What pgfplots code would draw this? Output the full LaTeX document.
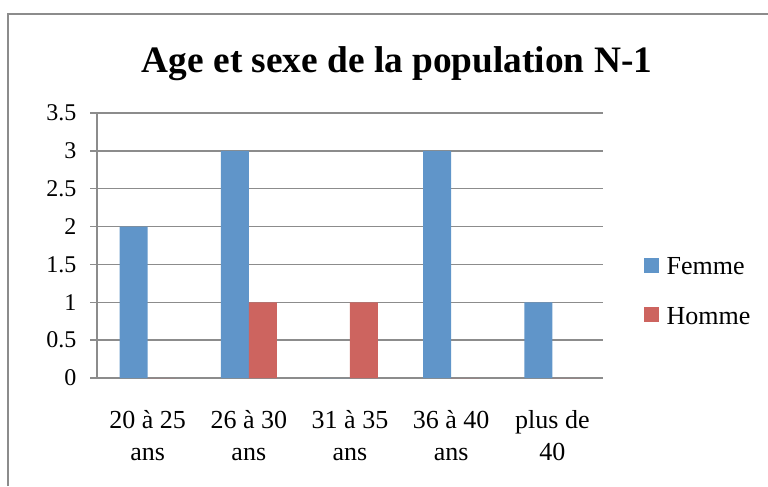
\documentclass[border=0pt]{standalone}
\usepackage{fontspec}
\setmainfont{Liberation Serif}
\usepackage{pgfplots}
\pgfplotsset{compat=1.18}
\definecolor{femme}{RGB}{96,149,201}
\definecolor{homme}{RGB}{205,100,95}
\definecolor{gridc}{RGB}{140,140,140}
\begin{document}
\begin{tikzpicture}
\draw[gridc, line width=1.2pt] (6pt,0pt) -- (6pt,354pt) -- (576pt,354pt);
\node[font=\bfseries\fontsize{28}{30}\selectfont] at (297.75pt,316.5pt) {Age et sexe de la population N-1};
\begin{axis}[
  at={(72.75pt,81pt)}, anchor=south west,
  scale only axis, width=379.5pt, height=198.75pt,
  ymin=0, ymax=3.5,
  xmin=-0.5, xmax=4.5,
  ytick={0,0.5,1,1.5,2,2.5,3,3.5},
  yticklabels={0,0.5,1,1.5,2,2.5,3,3.5},
  xtick={0,1,2,3,4},
  xticklabels={{20 à 25\\ans},{26 à 30\\ans},{31 à 35\\ans},{36 à 40\\ans},{plus de\\40}},
  xticklabel style={align=center, font=\fontsize{19.5}{23.5}\selectfont, yshift=-16pt},
  yticklabel style={font=\fontsize{18}{20}\selectfont, xshift=-7pt},
  major x tick style={draw=none},
  extra x ticks={-0.5,0.5,1.5,2.5,3.5,4.5},
  extra x tick labels={},
  extra x tick style={grid=none, major tick length=5pt, tick style={draw=gridc, line width=1.1pt}},
  tick align=outside,
  major tick length=5pt,
  tick style={draw=gridc, line width=1.1pt},
  axis lines*=left,
  axis line style={gridc, line width=1.1pt},
  ymajorgrids,
  grid style={gridc, line width=1.1pt},
  ybar=0pt, bar width=21pt,
  legend style={draw=none, at={(1.081,0.325)}, anchor=west, font=\fontsize{19.5}{22}\selectfont, row sep=18pt, column sep=3pt, inner sep=0pt, nodes={inner sep=2.5pt}},
  legend cell align=left,
  legend image code/.code={\fill[#1] (0pt,-4.2pt) rectangle (11.25pt,7pt);},
]
\addplot[fill=femme, draw=none] coordinates {(0,2) (1,3) (2,0) (3,3) (4,1)};
\addplot[fill=homme, draw=none] coordinates {(0,0) (1,1) (2,1) (3,0) (4,0)};
\legend{Femme,Homme}
\end{axis}
\pgfresetboundingbox
\path[use as bounding box] (0pt,0pt) rectangle (576pt,364.5pt);
\end{tikzpicture}
\end{document}
